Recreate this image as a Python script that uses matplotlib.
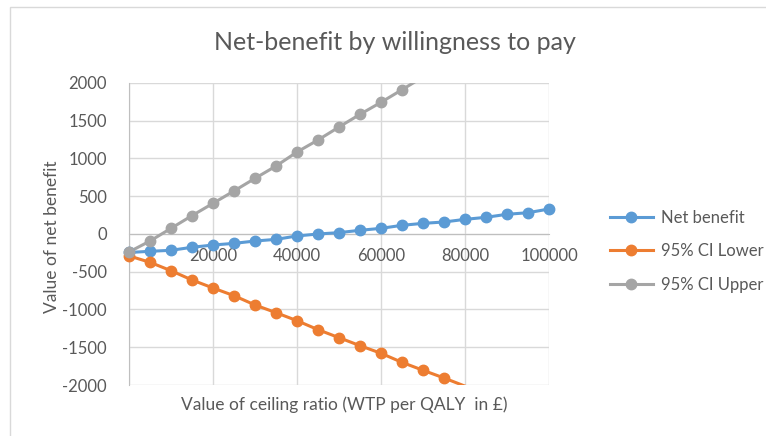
import matplotlib
matplotlib.use("Agg")
import matplotlib.pyplot as plt
from matplotlib.patches import Rectangle

plt.rcParams['font.family'] = ['Lato', 'DejaVu Sans']
plt.rcParams['axes.unicode_minus'] = False

wtp = [0, 5000, 10000, 15000, 20000, 25000, 30000, 35000, 40000, 45000, 50000,
       55000, 60000, 65000, 70000, 75000, 80000, 85000, 90000, 95000, 100000]
net_benefit = [-245, -229, -216, -176, -146, -124, -93, -71, -26, 0, 18,
               49, 75, 115, 141, 159, 194, 221, 261, 282, 331]
ci_lower = [-290, -375, -486, -609, -715, -817, -940, -1042, -1148, -1267, -1373,
            -1479, -1580, -1700, -1805, -1907, -2015, -2120, -2230, -2335, -2440]
ci_upper = [-238, -93, 75, 243, 406, 570, 737, 900, 1086, 1245, 1417,
            1585, 1744, 1911, 2080, 2245, 2410, 2575, 2745, 2910, 3080]

series = [("Net benefit", net_benefit, "#5B9BD5"),
          ("95% CI Lower", ci_lower, "#ED7D31"),
          ("95% CI Upper", ci_upper, "#A5A5A5")]

W, H = 766, 436
fig = plt.figure(figsize=(W / 100, H / 100), dpi=100)
fig.patch.set_facecolor("white")
ax = fig.add_axes([129 / W, 1 - 385 / H, (549 - 129) / W, (385 - 83) / H])

ymin, ymax = -2000, 2000
txt = "#595959"
for name, vals, col in series:
    ax.plot(wtp, vals, color=col, lw=2.2, clip_on=True, zorder=3)
    xs = [x for x, v in zip(wtp, vals) if ymin <= v <= ymax]
    vs = [v for v in vals if ymin <= v <= ymax]
    ax.plot(xs, vs, color=col, lw=0, marker="o", ms=7.5, clip_on=False, zorder=4)
    ax.plot([], [], color=col, lw=2.2, marker="o", ms=7.5, label=name)

ax.set_xlim(0, 100000)
ax.set_ylim(ymin, ymax)
ax.set_xticks(range(0, 100001, 20000))
ax.set_yticks(range(-2000, 2001, 500))
ax.grid(True, color="#D9D9D9", lw=1)
ax.set_axisbelow(True)
for s in ["top", "right"]:
    ax.spines[s].set_visible(False)
ax.spines["left"].set_color("#BFBFBF")
ax.spines["bottom"].set_position(("data", 0))
ax.spines["bottom"].set_color("#BFBFBF")
ax.tick_params(axis="both", length=0, colors=txt, labelsize=12)
ax.tick_params(axis="x", pad=10)
ax.tick_params(axis="y", pad=16)

fig.text(344 / W, 1 - 405 / H, "Value of ceiling ratio (WTP per QALY  in £)",
         ha="center", va="center", fontsize=12.5, color=txt)
fig.text(52 / W, 1 - 237 / H, "Value of net benefit", rotation=90,
         ha="center", va="center", fontsize=12.5, color=txt)
fig.text(395 / W, 1 - 42 / H, "Net-benefit by willingness to pay",
         ha="center", va="center", fontsize=18, color=txt)

leg = ax.legend(loc="center left", bbox_to_anchor=(603 / W, 1 - 251 / H),
                bbox_transform=fig.transFigure, frameon=False, fontsize=12,
                handlelength=2.6, labelspacing=1.05, handletextpad=0.5,
                borderaxespad=0)
for t in leg.get_texts():
    t.set_color(txt)

fig.add_artist(Rectangle((10 / W, -0.1), 1.2, 1 - 7 / H + 0.1,
                         transform=fig.transFigure, fill=False,
                         edgecolor="#D9D9D9", lw=1))

fig.savefig("out.png", dpi=100)
